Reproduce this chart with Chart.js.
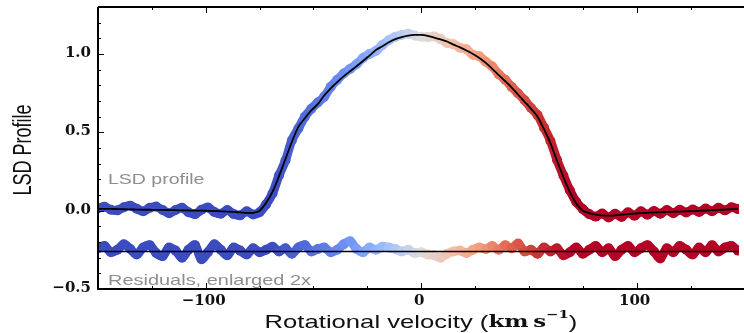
<!DOCTYPE html>
<html>
<head>
<meta charset="utf-8">
<script src="https://cdn.jsdelivr.net/npm/chart.js@4.4.1/dist/chart.umd.min.js"></script>
<style>
html,body{margin:0;padding:0;background:#fff;}
#wrap{width:744px;height:333px;position:relative;}
</style>
</head>
<body>
<div id="wrap"><canvas id="c" width="744" height="333"></canvas></div>
<script>
// ---- data ----
const velocity = [-150,-147,-144,-141,-138,-135,-132,-129,-126,-123,-120,-117,-114,-111,-108,-105,-102,-99,-96,-93,-90,-87,-84,-81,-78,-75,-72,-69,-66,-63,-60,-57,-54,-51,-48,-45,-42,-39,-36,-33,-30,-27,-24,-21,-18,-15,-12,-9,-6,-3,0,3,6,9,12,15,18,21,24,27,30,33,36,39,42,45,48,51,54,57,60,63,66,69,72,75,78,81,84,87,90,93,96,99,102,105,108,111,114,117,120,123,126,129,132,135,138,141,144,147];

const profile = [0.015,0.025,0.006,0.002,0.022,0.032,0.012,-0.004,0.018,0.026,0.004,-0.016,0.004,0.018,-0.010,-0.022,0.006,0.020,-0.008,-0.020,0.004,-0.022,-0.030,-0.004,-0.024,-0.010,0.040,0.110,0.225,0.320,0.450,0.525,0.600,0.650,0.690,0.728,0.790,0.835,0.875,0.905,0.935,0.975,1.000,1.020,1.058,1.088,1.110,1.122,1.130,1.118,1.110,1.108,1.112,1.095,1.070,1.062,1.040,1.030,0.995,0.985,0.950,0.920,0.870,0.835,0.790,0.748,0.705,0.655,0.610,0.530,0.445,0.325,0.225,0.130,0.055,0.010,-0.022,-0.038,-0.018,-0.044,-0.020,-0.040,-0.010,-0.032,-0.004,-0.026,-0.002,-0.020,0.004,-0.016,0.006,-0.012,0.008,-0.008,0.014,-0.004,0.018,0.002,0.022,0.010];

const fitModel = [0.012,0.012,0.011,0.010,0.009,0.008,0.007,0.006,0.006,0.005,0.005,0.004,0.003,0.002,0.001,0.000,0.000,-0.001,-0.002,-0.004,-0.006,-0.008,-0.011,-0.014,-0.014,0.000,0.050,0.120,0.220,0.330,0.440,0.535,0.590,0.640,0.680,0.735,0.780,0.820,0.857,0.890,0.922,0.955,0.990,1.025,1.050,1.075,1.095,1.108,1.117,1.122,1.122,1.116,1.105,1.093,1.080,1.060,1.042,1.022,1.000,0.975,0.943,0.905,0.865,0.826,0.786,0.740,0.695,0.650,0.600,0.520,0.430,0.320,0.215,0.120,0.045,0.000,-0.015,-0.025,-0.030,-0.032,-0.030,-0.026,-0.022,-0.018,-0.016,-0.014,-0.012,-0.010,-0.008,-0.007,-0.006,-0.004,-0.003,-0.001,0.001,0.003,0.005,0.007,0.009,0.011];

const residuals = [-0.240,-0.225,-0.265,-0.250,-0.215,-0.245,-0.280,-0.235,-0.220,-0.270,
-0.290,-0.235,-0.255,-0.300,-0.250,-0.220,-0.310,-0.265,-0.215,-0.250,
-0.285,-0.235,-0.255,-0.280,-0.240,-0.265,-0.250,-0.230,-0.260,-0.240,
-0.275,-0.235,-0.220,-0.260,-0.245,-0.235,-0.265,-0.250,-0.215,-0.195,
-0.245,-0.265,-0.235,-0.250,-0.230,-0.235,-0.245,-0.260,-0.250,-0.270,
-0.265,-0.280,-0.285,-0.300,-0.275,-0.260,-0.255,-0.270,-0.250,-0.235,
-0.245,-0.225,-0.250,-0.220,-0.240,-0.210,-0.260,-0.250,-0.275,-0.235,
-0.260,-0.240,-0.285,-0.265,-0.235,-0.275,-0.250,-0.225,-0.265,-0.240,
-0.290,-0.250,-0.225,-0.265,-0.240,-0.220,-0.260,-0.305,-0.240,-0.265,
-0.225,-0.250,-0.280,-0.235,-0.265,-0.220,-0.260,-0.235,-0.225,-0.255];

const residualZeroX = [-150, 150];
const residualZeroY = [-0.26, -0.26];

const xMajorTicks = [-100, 0, 100];
const xMinorTicks = [-150, -125, -75, -50, -25, 25, 50, 75, 125, 150];
const yMajorTicks = [-0.5, 0.0, 0.5, 1.0];
const yMinorTicks = [-0.4, -0.3, -0.2, -0.1, 0.1, 0.2, 0.3, 0.4, 0.6, 0.7, 0.8, 0.9, 1.1, 1.2];
const xTickLabels = ['\u2212100', '0', '100'];
const yTickLabels = ['\u22120.5', '0.0', '0.5', '1.0'];

const annoProfile = 'LSD profile';
const annoResid = 'Residuals, enlarged 2x';
const yTitle = 'LSD Profile';

// ---- colour map (coolwarm-like) ----
const stops = [
  [0.0, [59,76,192]], [0.1, [77,104,215]], [0.2, [98,130,234]], [0.3, [126,161,250]],
  [0.4, [168,196,252]], [0.5, [221,220,220]], [0.6, [243,193,170]], [0.7, [244,154,123]],
  [0.8, [222,98,78]], [0.9, [198,46,48]], [1.0, [180,4,38]]
];
function cmap(v){
  let t = (v + 70) / 140; t = Math.max(0, Math.min(1, t));
  for (let i = 1; i < stops.length; i++){
    if (t <= stops[i][0]){
      const a = stops[i-1], b = stops[i];
      const f = (t - a[0]) / (b[0] - a[0]);
      const c = a[1].map((x, k) => Math.round(x + (b[1][k] - x) * f));
      return 'rgb(' + c.join(',') + ')';
    }
  }
  return 'rgb(180,4,38)';
}

const pts = (xs, ys) => xs.map((x, i) => ({x: x, y: ys[i]}));

function thickDS(ys){
  return {
    data: pts(velocity, ys),
    borderWidth: 9,
    borderCapStyle: 'round',
    borderJoinStyle: 'round',
    tension: 0.35,
    pointRadius: 5,
    pointBorderWidth: 0,
    pointBackgroundColor: c => cmap(c.raw ? c.raw.x : 0),
    segment: { borderColor: s => cmap((s.p0.parsed.x + s.p1.parsed.x) / 2) },
    borderColor: '#3b4cc0',
    clip: 0,
    order: 2
  };
}

function drawStretched(ctx, text, x, y, font, color, align, stretch){
  ctx.save();
  ctx.font = font; ctx.fillStyle = color;
  ctx.textAlign = align; ctx.textBaseline = 'middle';
  ctx.translate(x, y); ctx.scale(stretch, 1);
  ctx.fillText(text, 0, 0);
  ctx.restore();
}

const decor = {
  id: 'decor',
  afterDraw(chart){
    const ctx = chart.ctx, a = chart.chartArea;
    const xs = chart.scales.x, ys = chart.scales.y;
    ctx.save();
    // frame
    ctx.strokeStyle = '#000'; ctx.lineWidth = 2;
    ctx.beginPath();
    ctx.moveTo(a.left, a.top); ctx.lineTo(744, a.top);
    ctx.moveTo(a.left, a.top); ctx.lineTo(a.left, a.bottom);
    ctx.moveTo(a.left - 1, a.bottom); ctx.lineTo(744, a.bottom);
    ctx.stroke();
    // inward ticks
    ctx.lineWidth = 1;
    ctx.beginPath();
    const xt = (v, len) => { const p = Math.round(xs.getPixelForValue(v)) + 0.5;
      ctx.moveTo(p, a.bottom); ctx.lineTo(p, a.bottom - len);
      ctx.moveTo(p, a.top); ctx.lineTo(p, a.top + len); };
    const yt = (v, len) => { const p = Math.round(ys.getPixelForValue(v)) + 0.5;
      ctx.moveTo(a.left, p); ctx.lineTo(a.left + len, p); };
    xMajorTicks.forEach(v => xt(v, 6));
    xMinorTicks.forEach(v => xt(v, 3));
    yMajorTicks.forEach(v => yt(v, 6));
    yMinorTicks.forEach(v => yt(v, 3));
    ctx.stroke();
    ctx.restore();

    // tick labels
    const tickFont = 'bold 15px "DejaVu Serif", serif';
    yMajorTicks.forEach((v, i) => drawStretched(ctx, yTickLabels[i], 91, ys.getPixelForValue(v) - 1, tickFont, '#111', 'right', 1.0));
    xMajorTicks.forEach((v, i) => drawStretched(ctx, xTickLabels[i], xs.getPixelForValue(v) - 2, 301, tickFont, '#111', 'center', 1.0));

    // annotations
    const annFont = '15px "Liberation Sans", Arial, sans-serif';
    drawStretched(ctx, annoProfile, 108, ys.getPixelForValue(0.195), annFont, '#8e8e8e', 'left', 1.3);
    drawStretched(ctx, annoResid, 108, ys.getPixelForValue(-0.445), annFont, '#8e8e8e', 'left', 1.33);

    // x title with mixed fonts
    ctx.save();
    const sans = '19px "Liberation Sans", Arial, sans-serif';
    const serif = 'bold 17px "DejaVu Serif", serif';
    const supf = 'bold 11px "DejaVu Serif", serif';
    const parts = [
      {t: 'Rotational velocity (', f: sans, dy: 0},
      {t: 'km\u2009s', f: serif, dy: 0},
      {t: '\u22121', f: supf, dy: -8},
      {t: ')', f: sans, dy: 0}
    ];
    let W = 0;
    parts.forEach(p => { ctx.font = p.f; p.w = ctx.measureText(p.t).width; W += p.w; });
    const st = 1.35;
    const cx = 421;
    ctx.translate(cx - W * st / 2, 323);
    ctx.scale(st, 1);
    ctx.fillStyle = '#111'; ctx.textBaseline = 'middle'; ctx.textAlign = 'left';
    let off = 0;
    parts.forEach(p => { ctx.font = p.f; ctx.fillText(p.t, off, p.dy); off += p.w; });
    ctx.restore();

    // y title
    ctx.save();
    ctx.translate(24, 150);
    ctx.scale(1.4, 1);
    ctx.rotate(-Math.PI / 2);
    ctx.font = '18px "Liberation Sans", Arial, sans-serif';
    ctx.fillStyle = '#111'; ctx.textAlign = 'center'; ctx.textBaseline = 'middle';
    ctx.fillText(yTitle, 0, 0);
    ctx.restore();
  }
};

new Chart(document.getElementById('c'), {
  type: 'line',
  data: {
    datasets: [
      thickDS(profile),
      thickDS(residuals),
      { data: pts(velocity, fitModel), borderColor: '#000', borderWidth: 1.8, pointRadius: 0, tension: 0.3, clip: 0, order: 0 },
      { data: pts(residualZeroX, residualZeroY), borderColor: '#000', borderWidth: 1.5, pointRadius: 0, clip: 0, order: 0 }
    ]
  },
  options: {
    responsive: false,
    animation: false,
    events: [],
    layout: { padding: { top: 7, right: 0, left: 0, bottom: 0 } },
    plugins: { legend: { display: false }, tooltip: { enabled: false } },
    scales: {
      x: {
        type: 'linear', min: -150, max: 147.5,
        grid: { display: false }, border: { display: false },
        ticks: { display: false },
        afterFit: s => { s.height = 44; }
      },
      y: {
        type: 'linear', min: -0.5, max: 1.3,
        grid: { display: false }, border: { display: false },
        ticks: { display: false },
        afterFit: s => { s.width = 98; }
      }
    }
  },
  plugins: [decor]
});
</script>
</body>
</html>
